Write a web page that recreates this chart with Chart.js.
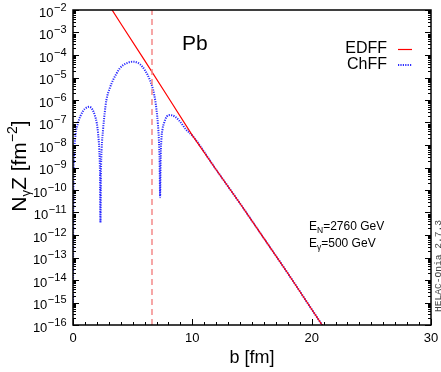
<!DOCTYPE html>
<html>
<head>
<meta charset="utf-8">
<script src="https://cdn.jsdelivr.net/npm/chart.js@4/dist/chart.umd.min.js"></script>
<style>
  html, body { margin: 0; padding: 0; background: #fff; }
  #chart { display: block; }
</style>
</head>
<body>
<canvas id="chart" width="441" height="372"></canvas>
<script>
// values, y given as log10 of N [fm^-2]
const edffB   = [3, 4, 6, 8, 10, 12, 14, 16, 18, 20, 21];
const edffLog = [-1.77, -2.6, -4.24, -5.9, -7.57, -9.1, -10.6, -12.15, -13.7, -15.3, -16.1];

const chffB   = [0.005, 0.02, 0.05, 0.1, 0.2, 0.42, 0.84, 1.1, 1.35, 1.6, 1.82, 2.0, 2.1, 2.2, 2.26, 2.3,
                 2.34, 2.4, 2.52, 2.65, 2.8, 3.1, 3.36, 3.65, 3.92, 4.2, 4.48, 4.8, 5.1, 5.35, 5.6, 6.02,
                 6.44, 6.72, 6.9, 7.0, 7.12, 7.2, 7.26, 7.3, 7.34, 7.4, 7.5, 7.62, 7.85, 8.13, 8.55, 8.97,
                 9.5, 10, 12, 14, 16, 18, 20, 21];
const chffLog = [-15, -11.5, -9.3, -8.4, -7.6, -7.03, -6.49, -6.35, -6.3, -6.4, -6.67, -7.05, -7.48, -8.2, -9.2, -11.45,
                 -9.3, -8.2, -7.3, -6.6, -6.0, -5.45, -5.11, -4.82, -4.59, -4.45, -4.37, -4.31, -4.30, -4.33, -4.40, -4.67,
                 -5.11, -5.56, -6.05, -6.44, -7.1, -7.78, -8.8, -10.32, -8.8, -7.8, -7.3, -7.04, -6.74, -6.67, -6.74, -6.96,
                 -7.33, -7.58, -9.1, -10.6, -12.15, -13.7, -15.3, -16.1];

const radiusB = 6.62;
const yTickExps = [-2, -3, -4, -5, -6, -7, -8, -9, -10, -11, -12, -13, -14, -15, -16];
const xTickLabels = [0, 10, 20, 30];

const toPts = (bs, logs) => bs.map((b, i) => ({ x: b, y: Math.pow(10, logs[i]) }));

const FONT = '"Liberation Sans", Arial, sans-serif';
const BLUE = '#2d2dff';

const decor = {
  id: 'decor',
  afterDraw(chart) {
    const ctx = chart.ctx;
    const xs = chart.scales.x, ys = chart.scales.y;
    const a = chart.chartArea;
    ctx.save();

    // ticks
    ctx.strokeStyle = '#000';
    ctx.lineWidth = 1;
    ctx.beginPath();
    for (let e = -16; e <= -2; e++) {
      for (let m = 1; m <= 9; m++) {
        if (e === -2 && m > 1) break;
        const y = Math.round(ys.getPixelForValue(m * Math.pow(10, e))) + 0.5;
        const len = m === 1 ? 6 : 3;
        ctx.moveTo(a.left, y); ctx.lineTo(a.left + len, y);
        ctx.moveTo(a.right, y); ctx.lineTo(a.right - len, y);
      }
    }
    for (let v = 0; v <= 30; v++) {
      const x = Math.round(xs.getPixelForValue(v)) + 0.5;
      const len = v % 10 === 0 ? 6 : 3;
      ctx.moveTo(x, a.bottom); ctx.lineTo(x, a.bottom - len);
    }
    ctx.stroke();

    // frame
    ctx.lineWidth = 1.5;
    ctx.strokeRect(a.left, a.top, a.right - a.left, a.bottom - a.top);

    ctx.fillStyle = '#000';
    // y tick labels 10^e
    ctx.textBaseline = 'alphabetic';
    yTickExps.forEach(e => {
      const y = ys.getPixelForValue(Math.pow(10, e));
      ctx.font = '11px ' + FONT;
      const sup = String(e).replace('-', '\u2212');
      const sw = ctx.measureText(sup).width;
      ctx.textAlign = 'left';
      const right = 66.5;
      ctx.fillText(sup, right - sw, y + 0.5);
      ctx.font = '13px ' + FONT;
      const bw = ctx.measureText('10').width;
      ctx.fillText('10', right - sw - bw - 0.5, y + 6.5);
    });

    // x tick labels
    ctx.font = '13px ' + FONT;
    ctx.textAlign = 'center';
    ctx.textBaseline = 'middle';
    xTickLabels.forEach(v => {
      ctx.fillText(String(v), xs.getPixelForValue(v), 338);
    });

    // x title
    ctx.font = '18px ' + FONT;
    ctx.fillText('b [fm]', (a.left + a.right) / 2, 358);

    // y title, rotated
    ctx.save();
    ctx.translate(19, 166);
    ctx.rotate(-Math.PI / 2);
    const runs = [
      { t: 'N', f: 21, dy: 0 },
      { t: '\u03b3', f: 13, dy: 4 },
      { t: 'Z', f: 21, dy: 0 },
      { t: ' [fm', f: 21, dy: 0 },
      { t: '\u22122', f: 14, dy: -9 },
      { t: ']', f: 21, dy: 0 }
    ];
    let total = 0;
    runs.forEach(r => { ctx.font = r.f + 'px ' + FONT; r.w = ctx.measureText(r.t).width; total += r.w; });
    let px = -total / 2;
    ctx.textAlign = 'left';
    ctx.textBaseline = 'alphabetic';
    runs.forEach(r => {
      ctx.font = r.f + 'px ' + FONT;
      ctx.fillText(r.t, px, 7 + r.dy);
      px += r.w;
    });
    ctx.restore();

    // Pb
    ctx.textAlign = 'left';
    ctx.textBaseline = 'alphabetic';
    ctx.font = '21px ' + FONT;
    ctx.fillText('Pb', 182, 50);

    // legend
    ctx.font = '16px ' + FONT;
    ctx.textAlign = 'right';
    ctx.textBaseline = 'middle';
    ctx.fillText('EDFF', 387, 49);
    ctx.fillText('ChFF', 387, 65);
    ctx.lineWidth = 1.2;
    ctx.strokeStyle = '#ff0000';
    ctx.beginPath(); ctx.moveTo(398, 49.5); ctx.lineTo(412, 49.5); ctx.stroke();
    ctx.strokeStyle = BLUE;
    ctx.lineWidth = 2;
    ctx.setLineDash([1.2, 1.2]);
    ctx.beginPath(); ctx.moveTo(398, 65); ctx.lineTo(412, 65); ctx.stroke();
    ctx.setLineDash([]);

    // energies
    ctx.textAlign = 'left';
    ctx.textBaseline = 'alphabetic';
    const energy = (sub, rest, x, y) => {
      ctx.font = '12px ' + FONT;
      ctx.fillText('E', x, y);
      let w = ctx.measureText('E').width;
      ctx.font = '8.5px ' + FONT;
      ctx.fillText(sub, x + w, y + 3);
      w += ctx.measureText(sub).width;
      ctx.font = '12px ' + FONT;
      ctx.fillText(rest, x + w, y);
    };
    energy('N', '=2760 GeV', 309, 230);
    energy('\u03b3', '=500 GeV', 309, 247);

    // program stamp
    ctx.save();
    ctx.translate(438, 266);
    ctx.rotate(-Math.PI / 2);
    ctx.font = '9.6px "Liberation Mono", "DejaVu Sans Mono", monospace';
    ctx.fillStyle = '#444';
    ctx.textAlign = 'center';
    ctx.textBaseline = 'middle';
    ctx.fillText('HELAC-Onia 2.7.3', 0, 0);
    ctx.restore();

    ctx.restore();
  }
};

new Chart(document.getElementById('chart'), {
  type: 'scatter',
  data: {
    datasets: [
      {
        label: 'radius',
        data: [{ x: radiusB, y: 1e-16 }, { x: radiusB, y: 1e-2 }],
        showLine: true,
        borderColor: '#f48a8a',
        borderWidth: 1.5,
        borderDash: [6, 4],
        pointRadius: 0
      },
      {
        label: 'EDFF',
        data: toPts(edffB, edffLog),
        showLine: true,
        borderColor: '#ff0000',
        borderWidth: 1.2,
        pointRadius: 0
      },
      {
        label: 'ChFF',
        data: toPts(chffB, chffLog),
        showLine: true,
        borderColor: BLUE,
        borderWidth: 2,
        borderDash: [1.2, 1.2],
        cubicInterpolationMode: 'monotone',
        pointRadius: 0
      }
    ]
  },
  options: {
    responsive: false,
    animation: false,
    devicePixelRatio: 1,
    layout: { padding: { top: 10, right: 10, left: 0, bottom: 0 } },
    plugins: {
      legend: { display: false },
      tooltip: { enabled: false }
    },
    scales: {
      x: {
        type: 'linear',
        min: 0,
        max: 30,
        ticks: { display: false },
        grid: { display: false },
        border: { display: false },
        afterFit: s => { s.height = 47; }
      },
      y: {
        type: 'logarithmic',
        min: 1e-16,
        max: 1e-2,
        ticks: { display: false },
        grid: { display: false },
        border: { display: false },
        afterFit: s => { s.width = 73; }
      }
    }
  },
  plugins: [decor]
});
</script>
</body>
</html>
